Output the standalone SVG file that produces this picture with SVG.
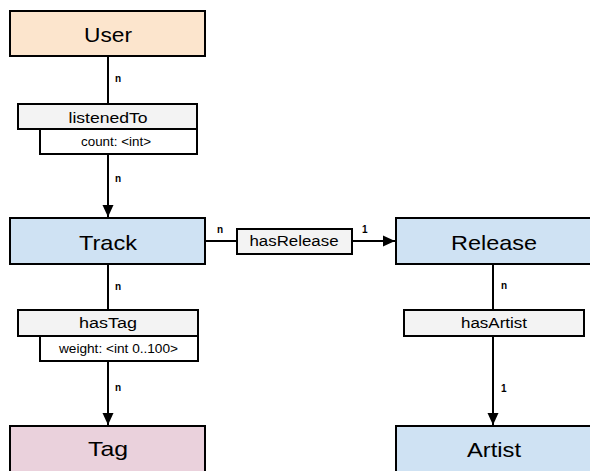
<svg xmlns="http://www.w3.org/2000/svg" width="590" height="471" viewBox="0 0 590 471">
<style>
.ent{stroke:#000;stroke-width:2}
.rel{fill:#f3f3f3;stroke:#000;stroke-width:2}
.att{fill:#fff;stroke:#000;stroke-width:2}
.t{font-family:"Liberation Sans",Arial,sans-serif;fill:#000;text-anchor:middle}
.big{font-size:21px}
.mid{font-size:15.5px}
.sm{font-size:12.5px}
.card{font-family:"Liberation Sans",Arial,sans-serif;font-size:10px;font-weight:bold;fill:#000}
.ln{stroke:#000;stroke-width:2;fill:none}
</style>
<defs>
<marker id="arr" markerWidth="12" markerHeight="12" viewBox="0 0 12 12" refX="12" refY="6" orient="auto" markerUnits="userSpaceOnUse">
<path d="M0,0.5 L12,6 L0,11.5 Z" fill="#000"/>
</marker>
</defs>
<g id="connectors">
<line class="ln" x1="108" y1="57" x2="108" y2="104"/>
<line class="ln" x1="108" y1="155" x2="108" y2="217" marker-end="url(#arr)"/>
<line class="ln" x1="108" y1="265" x2="108" y2="310"/>
<line class="ln" x1="108" y1="362" x2="108" y2="425" marker-end="url(#arr)"/>
<line class="ln" x1="206" y1="241" x2="237" y2="241"/>
<line class="ln" x1="352" y1="241" x2="395" y2="241" marker-end="url(#arr)"/>
<line class="ln" x1="493" y1="265" x2="493" y2="310"/>
<line class="ln" x1="493" y1="336" x2="493" y2="425" marker-end="url(#arr)"/>
<text class="card" x="115" y="82">n</text>
<text class="card" x="115" y="182">n</text>
<text class="card" x="115" y="290">n</text>
<text class="card" x="115" y="391">n</text>
<text class="card" x="217" y="233">n</text>
<text class="card" x="362" y="233">1</text>
<text class="card" x="501" y="289">n</text>
<text class="card" x="501" y="392">1</text>
</g>
<g id="User">
<rect class="ent" x="10" y="11" width="195" height="45" fill="#fce5cd"/>
<text class="t big" x="108" y="42" textLength="48" lengthAdjust="spacingAndGlyphs">User</text>
</g>
<g id="listenedTo">
<rect class="att" x="40" y="129" width="157" height="25"/>
<rect class="rel" x="18" y="104" width="179" height="25"/>
<text class="t mid" x="108" y="123" textLength="79" lengthAdjust="spacingAndGlyphs">listenedTo</text>
<text class="t sm" x="116" y="146" textLength="70" lengthAdjust="spacingAndGlyphs">count: &lt;int&gt;</text>
</g>
<g id="Track">
<rect class="ent" x="10" y="218" width="195" height="46" fill="#cfe2f3"/>
<text class="t big" x="108" y="250" textLength="58" lengthAdjust="spacingAndGlyphs">Track</text>
</g>
<g id="hasTag">
<rect class="att" x="40" y="336" width="158" height="25"/>
<rect class="rel" x="18" y="310" width="180" height="26"/>
<text class="t mid" x="108" y="328" textLength="58" lengthAdjust="spacingAndGlyphs">hasTag</text>
<text class="t sm" x="118.5" y="353" textLength="119" lengthAdjust="spacingAndGlyphs">weight: &lt;int 0..100&gt;</text>
</g>
<g id="Tag">
<rect class="ent" x="10" y="426" width="195" height="60" fill="#ead1dc"/>
<text class="t big" x="108" y="456" textLength="40" lengthAdjust="spacingAndGlyphs">Tag</text>
</g>
<g id="hasRelease">
<rect class="rel" x="237" y="229" width="115" height="25"/>
<text class="t mid" x="294" y="246" textLength="89" lengthAdjust="spacingAndGlyphs">hasRelease</text>
</g>
<g id="Release">
<rect class="ent" x="396" y="218" width="195" height="46" fill="#cfe2f3"/>
<text class="t big" x="494" y="250" textLength="86" lengthAdjust="spacingAndGlyphs">Release</text>
</g>
<g id="hasArtist">
<rect class="rel" x="404" y="310" width="180" height="26"/>
<text class="t mid" x="494" y="328" textLength="66" lengthAdjust="spacingAndGlyphs">hasArtist</text>
</g>
<g id="Artist">
<rect class="ent" x="396" y="426" width="195" height="60" fill="#cfe2f3"/>
<text class="t big" x="494" y="457" textLength="54" lengthAdjust="spacingAndGlyphs">Artist</text>
</g>
</svg>
